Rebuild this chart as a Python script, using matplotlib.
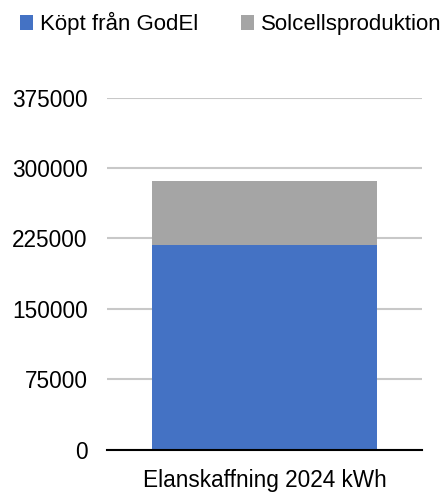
import matplotlib.pyplot as plt
import numpy as np

categories = ['Elanskaffning 2024 kWh']
kopt_godel = [218000]
solcell = [68000]
series_names = ['Köpt från GodEl', 'Solcellsproduktion']
yticks = [0, 75000, 150000, 225000, 300000, 375000]

plt.rcParams['font.family'] = ['Liberation Sans', 'DejaVu Sans']
fs = 16.3

fig = plt.figure(figsize=(4.46, 4.95), dpi=100)
ax = fig.add_axes([0.240, 0.091, 0.706, 0.712])

x = np.arange(len(categories))
ax.bar(x, kopt_godel, width=0.717, color='#4472C4', label=series_names[0], zorder=2)
ax.bar(x, solcell, width=0.717, bottom=kopt_godel, color='#A5A5A5', label=series_names[1], zorder=2)

ax.set_xlim(-0.5, 0.5)
ax.set_ylim(0, 375000)
ax.set_yticks(yticks)
ax.set_yticklabels([str(v) for v in yticks])
ax.set_xticks(x)
ax.set_xticklabels(categories)
ax.tick_params(axis='y', length=0, pad=14, labelsize=fs)
ax.tick_params(axis='x', length=0, pad=14, labelsize=fs)
ax.grid(axis='y', color='#c8c8c8', linewidth=1.5, zorder=0)
for s in ['top', 'right', 'left']:
    ax.spines[s].set_visible(False)
ax.spines['bottom'].set_linewidth(1.5)
ax.spines['bottom'].set_zorder(3)

fig.legend(loc='center left', bbox_to_anchor=(0.045, 0.952), ncol=2, frameon=False,
           fontsize=16, handlelength=0.6, handleheight=0.6, handletextpad=0.3,
           columnspacing=1.9, borderaxespad=0, borderpad=0)

fig.savefig('out.png', dpi=100)
